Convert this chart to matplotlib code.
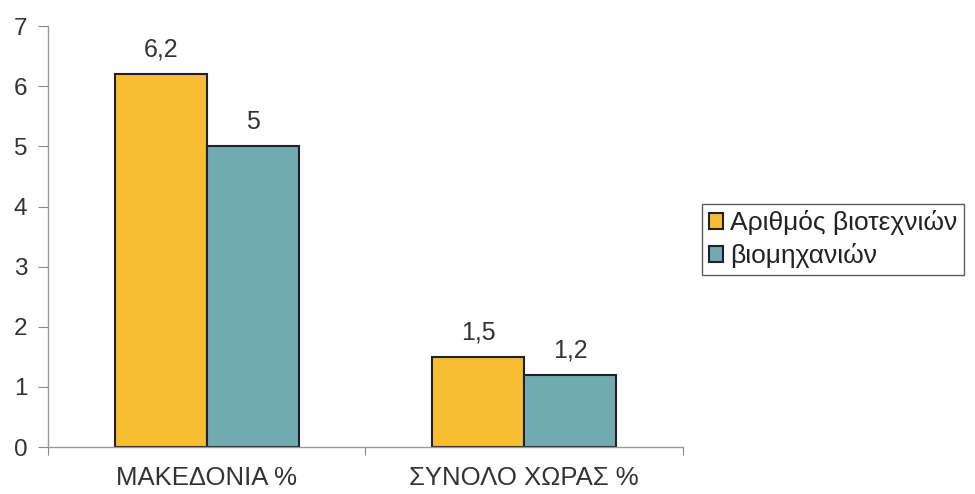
import numpy as np
import matplotlib.pyplot as plt

# data
categories = ["ΜΑΚΕΔΟΝΙΑ %", "ΣΥΝΟΛΟ ΧΩΡΑΣ %"]
series_names = ["Αριθμός βιοτεχνιών", "βιομηχανιών"]
biotechnies = [6.2, 1.5]
biomixanies = [5.0, 1.2]
yticks = [0, 1, 2, 3, 4, 5, 6, 7]

plt.rcParams['font.family'] = ['Liberation Sans', 'DejaVu Sans']

fig = plt.figure(figsize=(9.75, 4.94), dpi=100)
ax = fig.add_axes([0.0492, 0.0951, 0.6513, 0.852])

x = np.arange(len(categories))
w = 0.29
colors = ["#F7BD33", "#72AAB2"]
b1 = ax.bar(x - w/2, biotechnies, w, color=colors[0], edgecolor="#222222", linewidth=1.5,
            label=series_names[0])
b2 = ax.bar(x + w/2, biomixanies, w, color=colors[1], edgecolor="#222222", linewidth=1.5,
            label=series_names[1])

def fmt(v):
    s = ("%g" % v).replace(".", ",")
    return s

for bars, vals in ((b1, biotechnies), (b2, biomixanies)):
    for r, v in zip(bars, vals):
        ax.annotate(fmt(v), (r.get_x() + r.get_width()/2, v), xytext=(0, 9),
                    textcoords="offset points", ha="center", va="bottom",
                    fontsize=18, color="#333333")

ax.set_xlim(-0.5, 1.5)
ax.set_ylim(0, 7)
ax.set_yticks(yticks)
ax.set_xticks([-0.5, 0.5, 1.5])
ax.set_xticklabels([])
ax.set_xticks(x, minor=True)
ax.set_xticklabels(categories, minor=True)
ax.tick_params(axis="x", which="minor", length=0, pad=14, labelsize=18.5, labelcolor="#333333")
ax.tick_params(axis="x", which="major", length=6, color="#888888", direction="out")
ax.tick_params(axis="y", length=7, color="#888888", labelsize=17.5, labelcolor="#333333", pad=8)

for s in ("top", "right"):
    ax.spines[s].set_visible(False)
for s in ("left", "bottom"):
    ax.spines[s].set_color("#999999")
    ax.spines[s].set_linewidth(1.0)

leg = fig.legend(handles=[b1, b2], labels=series_names, loc="center left",
                 bbox_to_anchor=(0.72, 0.516), fontsize=19, frameon=True, fancybox=False,
                 handlelength=0.55, handleheight=0.55, handletextpad=0.25, borderpad=0.25,
                 labelspacing=0.3, borderaxespad=0)
leg.get_frame().set_edgecolor("#333333")
leg.get_frame().set_linewidth(1.0)
for t in leg.get_texts():
    t.set_color("#222222")

fig.savefig("out.png", dpi=100)
